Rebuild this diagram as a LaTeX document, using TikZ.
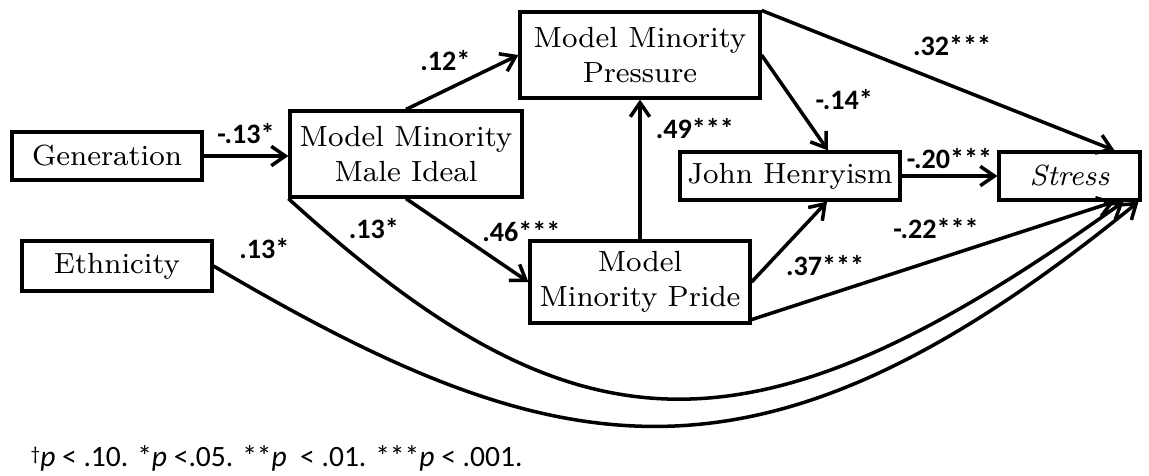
\documentclass[tikz,border=0pt]{standalone}
\usepackage{fontspec}
\newfontfamily\lblfont{Carlito}
\usetikzlibrary{arrows.meta,positioning,shadows}

\begin{document}
\begin{tikzpicture}[
    box/.style={draw, line width=0.9pt, fill=white, inner sep=0pt, align=center, font=\fontsize{8.3}{10}\selectfont, drop shadow={shadow xshift=0.7pt, shadow yshift=-0.7pt, opacity=0.6}},
    arr/.style={-{Straight Barb[length=4pt,width=5.5pt]}, line width=1pt},
    lbl/.style={font=\fontsize{8}{9.6}\lblfont\bfseries, inner sep=1pt}
]
\useasboundingbox (0,0) rectangle (11.49,-4.75);
\node[box, minimum width=1.90cm, minimum height=0.48cm] (gen) at (1.07,-1.56) {Generation};
\node[box, minimum width=1.90cm, minimum height=0.50cm] (eth) at (1.17,-2.66) {Ethnicity};
\node[box, minimum width=2.32cm, minimum height=0.86cm] (ideal) at (4.06,-1.54) {Model Minority\\Male Ideal};
\node[box, minimum width=2.40cm, minimum height=0.86cm] (press) at (6.40,-0.55) {Model Minority\\Pressure};
\node[box, minimum width=2.20cm, minimum height=0.82cm] (pride) at (6.40,-2.82) {Model\\Minority Pride};
\node[box, minimum width=2.20cm, minimum height=0.48cm] (jh) at (7.90,-1.76) {John Henryism};
\node[box, minimum width=1.41cm, minimum height=0.48cm] (stress) at (10.695,-1.76) {\textit{Stress}};

\draw[arr] (gen) -- node[lbl, above=2pt] {-.13*} (gen -| ideal.west);
\draw[arr] (ideal.north) -- node[lbl, pos=0.62, above left=0pt] {.12*} (press.west);
\draw[arr] (ideal.south) -- node[lbl, pos=0.58, above right] {.46***} (pride.west);
\draw[arr] (pride.north) -- node[lbl, pos=0.79, right=3pt] {.49***} (press.south);
\draw[arr] (press.east) -- node[lbl, pos=0.47, right=5pt] {-.14*} ([xshift=0.38cm]jh.north);
\draw[arr] (press.north east) -- node[lbl, pos=0.4, above right=2pt] {.32***} ([xshift=0.45cm]stress.north);
\draw[arr] (jh) -- node[lbl, above=0.5pt] {-.20***} (stress);
\draw[arr] (pride.east) -- node[lbl, pos=0.2, right=4pt] {.37***} ([xshift=0.37cm]jh.south);
\draw[arr] ([yshift=0.05cm]pride.south east) -- node[lbl, pos=0.64, above left] {-.22***} ([xshift=-0.27cm]stress.south east);
\draw[arr] (ideal.south west) .. controls (5.76,-4.60) and (7.50,-4.70) .. node[lbl, pos=0.04, right=6pt] {.13*} ([xshift=-0.18cm]stress.south east);
\draw[arr] (eth.east) .. controls (5.60,-4.70) and (7.60,-5.10) .. node[lbl, pos=0.02, above right=4pt and 0pt] {.13*} ([xshift=-0.03cm]stress.south east);

% significance levels
\node[anchor=west, inner sep=0pt, font=\fontsize{8.4}{10}\lblfont] (note) at (0.30,-4.58) {\raisebox{0.4ex}{\fontsize{5.5}{6}\selectfont †}\textit{p} < .10. *\textit{p} <.05. **\textit{p}\ \ < .01. ***\textit{p} < .001.};
\end{tikzpicture}
\end{document}
